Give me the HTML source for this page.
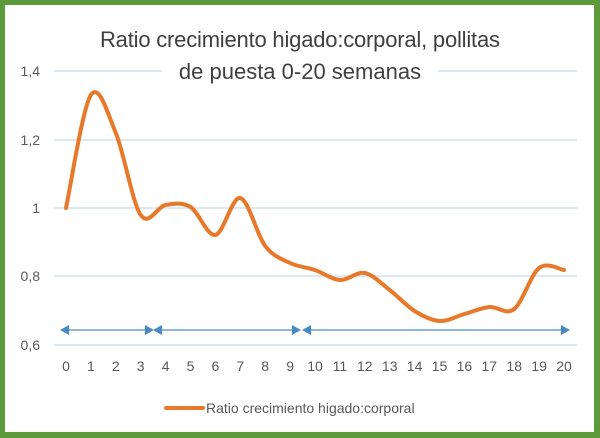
<!DOCTYPE html>
<html><head><meta charset="utf-8"><style>
body{margin:0;background:#fff}
svg{display:block;font-family:"Liberation Sans",sans-serif}
</style></head><body>
<svg id="s" width="600" height="438" viewBox="0 0 600 438">
<rect x="0" y="0" width="600" height="438" fill="#5c9a3c"/>
<rect x="5" y="5" width="589" height="427" fill="#fff"/>
<g stroke="#d3e0ec" stroke-width="1.5">
<line x1="54" x2="577" y1="71" y2="71"/><line x1="54" x2="577" y1="140" y2="140"/>
<line x1="54" x2="577" y1="208" y2="208"/><line x1="54" x2="577" y1="276" y2="276"/>
<line x1="54" x2="577" y1="345" y2="345"/>
</g>
<rect x="162" y="56" width="276" height="30" fill="#fff"/>
<text x="300" y="47" font-size="22" text-anchor="middle" fill="#404040" textLength="400">Ratio crecimiento higado:corporal, pollitas</text>
<text x="300" y="79" font-size="22" text-anchor="middle" fill="#404040">de puesta 0-20 semanas</text>
<g font-size="14" fill="#595959" text-anchor="end">
<text x="40" y="76">1,4</text><text x="40" y="145">1,2</text><text x="40" y="213">1</text>
<text x="40" y="281">0,8</text><text x="40" y="350">0,6</text>
</g>
<g id="xl" font-size="14" fill="#595959" text-anchor="middle"></g>
<g stroke="#4a8ac4" stroke-width="1.3" fill="#4a8ac4">
<line x1="66" x2="148" y1="330" y2="330"/><line x1="156" x2="298" y1="330" y2="330"/><line x1="306" x2="564" y1="330" y2="330"/>
<polygon points="60,330 69,325 69,335" stroke="none"/>
<polygon points="154,330 145,325 145,335" stroke="none"/>
<polygon points="153,330 162,325 162,335" stroke="none"/>
<polygon points="301,330 292,325 292,335" stroke="none"/>
<polygon points="302,330 311,325 311,335" stroke="none"/>
<polygon points="570,330 561,325 561,335" stroke="none"/>
</g>
<path id="p" fill="none" stroke="#e8782a" stroke-width="4" stroke-linejoin="round" stroke-linecap="round"/>
<line x1="166" x2="203" y1="408" y2="408" stroke="#e8782a" stroke-width="4" stroke-linecap="round"/>
<text x="206" y="413" font-size="14" fill="#595959">Ratio crecimiento higado:corporal</text>
</svg>
<script>
var y=[208,95,133,215,205,207,235,198,246,263,270,280,273,290,311,321,314,307,309,268,270];
var P=y.map(function(v,i){return [66+i*24.9,v]});
var d="M"+P[0][0]+","+P[0][1];
for(var i=0;i<P.length-1;i++){var p0=P[i-1]||P[i],p1=P[i],p2=P[i+1],p3=P[i+2]||p2;
d+=" C"+(p1[0]+(p2[0]-p0[0])/6)+","+(p1[1]+(p2[1]-p0[1])/6)+" "+(p2[0]-(p3[0]-p1[0])/6)+","+(p2[1]-(p3[1]-p1[1])/6)+" "+p2[0]+","+p2[1];}
document.getElementById("p").setAttribute("d",d);
var g=document.getElementById("xl"),h="";
for(var i=0;i<=20;i++)h+='<text x="'+(66+i*24.9)+'" y="371">'+i+'</text>';
g.innerHTML=h;
</script>
</body></html>
